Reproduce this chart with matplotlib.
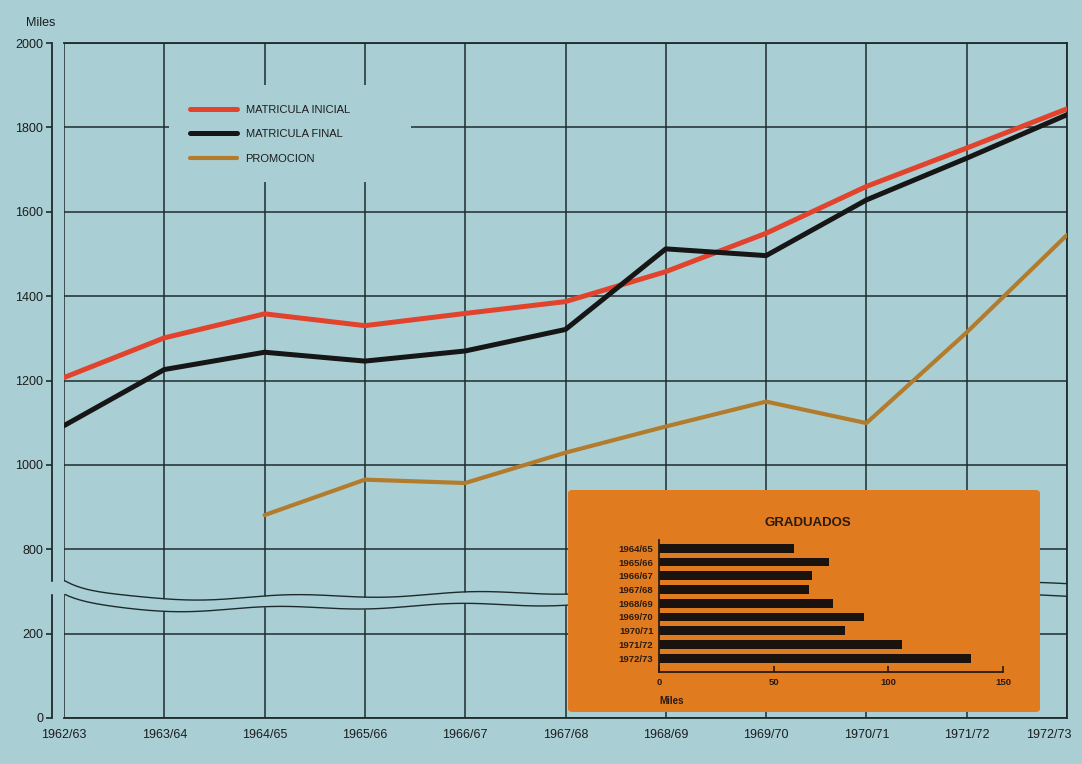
import numpy as np
import matplotlib
matplotlib.use("Agg")
import matplotlib.pyplot as plt
from matplotlib.patches import Rectangle, FancyBboxPatch
from matplotlib.transforms import ScaledTranslation

plt.rcParams['font.family'] = ['Liberation Sans', 'DejaVu Sans']

# ---------------- data ----------------
years = ['1962/63', '1963/64', '1964/65', '1965/66', '1966/67', '1967/68',
         '1968/69', '1969/70', '1970/71', '1971/72', '1972/73']
matricula_inicial = [1207, 1301, 1358, 1330, 1359, 1387, 1458, 1549, 1660, 1751, 1844]
matricula_final = [1093, 1226, 1267, 1246, 1270, 1321, 1512, 1496, 1628, 1727, 1830]
promocion = [np.nan, np.nan, 881, 965, 957, 1029, 1091, 1150, 1099, 1314, 1545]

y_ticks = [0, 200, 800, 1000, 1200, 1400, 1600, 1800, 2000]

grad_years = ['1964/65', '1965/66', '1966/67', '1967/68', '1968/69',
              '1969/70', '1970/71', '1971/72', '1972/73']
graduados = [59, 74, 66.5, 65.5, 76, 89.5, 81, 106, 136]
grad_ticks = [0, 50, 100, 150]

# ---------------- style ----------------
BG = '#a9cfd5'
GRID = '#1e2b2d'
RED = '#e2432c'
BLACK = '#161616'
PROMO = '#b37c2c'
ORANGE = '#e07b1f'
TXT = '#1c1c1c'
INK = '#2a1a10'

W, H = 1082, 764
fig = plt.figure(figsize=(W / 100, H / 100), dpi=100, facecolor=BG)


def fwd(y):
    y = np.asarray(y, float)
    return np.where(y <= 200, y, np.where(y >= 800, y - 400, 200 + (y - 200) / 3.0))


def inv(t):
    t = np.asarray(t, float)
    return np.where(t <= 200, t, np.where(t >= 400, t + 400, 200 + (t - 200) * 3.0))


ax = fig.add_axes([64 / W, 1 - 718 / H, 1003 / W, 675 / H])
ax.set_facecolor(BG)
ax.set_yscale('function', functions=(fwd, inv))
ax.set_ylim(0, 2000)
x = np.arange(len(years))
ax.set_xlim(0, len(years) - 1)

ax.set_yticks(y_ticks)
ax.set_yticklabels([str(v) for v in y_ticks])
ax.set_xticks(x)
ax.set_xticklabels(years)
ax.grid(True, color=GRID, linewidth=1.1)
ax.set_axisbelow(True)

for s in ['top', 'right', 'bottom']:
    ax.spines[s].set_color(GRID)
    ax.spines[s].set_linewidth(1.3)
ax.spines['left'].set_position(('outward', 9))
ax.spines['left'].set_color(GRID)
ax.spines['left'].set_linewidth(1.3)

ax.tick_params(axis='y', direction='out', length=4.5, width=1.2, color=GRID,
               labelsize=9, labelcolor=TXT, pad=1.5)
ax.tick_params(axis='x', length=0, labelsize=9, labelcolor=TXT, pad=8)

# keep the last x label inside the figure
last = ax.get_xticklabels()[-1]
last.set_transform(last.get_transform() + ScaledTranslation(-18 / 100, 0, fig.dpi_scale_trans))

# break band (wavy lines)
xs = np.linspace(0, 1, 400)
upper = 0.174 + 0.025 * xs + 0.03 * np.exp(-xs / 0.03) + 0.003 * np.sin(2 * np.pi * xs * 5.5)
lower = 0.157 + 0.025 * xs + 0.025 * np.exp(-xs / 0.03) + 0.003 * np.sin(2 * np.pi * xs * 5.5 + 0.6)
ax.fill_between(xs, lower, upper, transform=ax.transAxes, color=BG, zorder=1.0, linewidth=0)
ax.plot(xs, upper, transform=ax.transAxes, color=GRID, lw=1.0, zorder=1.1)
ax.plot(xs, lower, transform=ax.transAxes, color=GRID, lw=1.0, zorder=1.1)
# gap in the y spine
ax.add_patch(Rectangle((-0.03, 0.185), 0.03, 0.017, transform=ax.transAxes,
                       color=BG, clip_on=False, zorder=3))

# blank area behind legend
ax.add_patch(Rectangle((0.1045, 0.794), 0.241, 0.144, transform=ax.transAxes,
                       facecolor=BG, edgecolor='none', zorder=1.2))

# data lines
ax.plot(x, matricula_inicial, color=RED, lw=3.6, solid_capstyle='round',
        solid_joinstyle='round', zorder=3, label='MATRICULA INICIAL')
ax.plot(x, matricula_final, color=BLACK, lw=3.6, solid_capstyle='round',
        solid_joinstyle='round', zorder=3.1, label='MATRICULA FINAL')
ax.plot(x, promocion, color=PROMO, lw=3.0, solid_capstyle='round',
        solid_joinstyle='round', zorder=3, label='PROMOCION')

leg = ax.legend(loc='upper left', bbox_to_anchor=(0.1256, 0.908), frameon=False,
                borderaxespad=0, borderpad=0, handlelength=4.2, handletextpad=0.8,
                labelspacing=1.28, fontsize=8)
for t in leg.get_texts():
    t.set_color(TXT)

fig.text(26 / W, 1 - 23 / H, 'Miles', fontsize=9, color=TXT, va='center', ha='left')

# ---------------- inset ----------------
box = FancyBboxPatch((568 / W, 1 - 712 / H), 472 / W, 222 / H,
                     boxstyle='round,pad=0,rounding_size=0.004',
                     transform=fig.transFigure, facecolor=ORANGE, edgecolor='none',
                     zorder=5)
fig.add_artist(box)

axi = fig.add_axes([659 / W, 1 - 672 / H, 344 / W, 132 / H], zorder=6)
axi.set_facecolor('none')
yi = np.arange(len(grad_years))
axi.barh(yi, graduados, height=0.62, color='#1a120c')
axi.set_ylim(9.0, -0.6)
axi.set_xlim(0, 150)
axi.set_yticks(yi)
axi.set_yticklabels(grad_years, fontweight='bold')
axi.set_xticks(grad_ticks)
axi.set_xticklabels([str(v) for v in grad_ticks], fontweight='bold')
for s in ['top', 'right']:
    axi.spines[s].set_visible(False)
for s in ['left', 'bottom']:
    axi.spines[s].set_color(INK)
    axi.spines[s].set_linewidth(1.3)
axi.tick_params(axis='y', length=0, pad=4, labelsize=6.8, labelcolor=INK)
axi.tick_params(axis='x', direction='in', length=4, width=1.2, color=INK,
                labelsize=6.8, labelcolor=INK, pad=4)
axi.text(0, -0.22, 'Miles', transform=axi.transAxes, fontsize=7, fontweight='bold',
         color=INK, ha='left', va='center')
fig.text(808 / W, 1 - 523 / H, 'GRADUADOS', fontsize=9.5, fontweight='bold',
         color=INK, ha='center', va='center', zorder=7)

fig.savefig('out.png', dpi=100, facecolor=BG)
